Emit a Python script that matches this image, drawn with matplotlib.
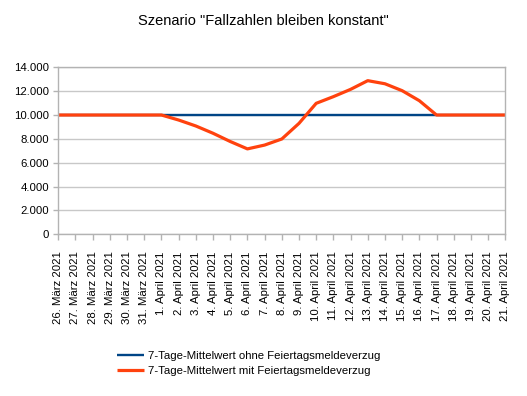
import matplotlib
matplotlib.use("Agg")
import matplotlib.pyplot as plt
from matplotlib.ticker import FuncFormatter

plt.rcParams["font.family"] = ["Liberation Sans", "DejaVu Sans"]

# dates 26. Maerz .. 21. April 2021
dates = [f"{d}. März 2021" for d in range(26, 32)] + [f"{d}. April 2021" for d in range(1, 22)]

ohne = [10000] * 27
mit = [10000, 10000, 10000, 10000, 10000, 10000, 10000,
       9580, 9080, 8470, 7780, 7160,
       7480, 7990, 9300, 10980, 11540, 12150, 12880,
       12620, 12040, 11200, 10000,
       10000, 10000, 10000, 10000]

labels = ["7-Tage-Mittelwert ohne Feiertagsmeldeverzug",
          "7-Tage-Mittelwert mit Feiertagsmeldeverzug"]

W, H = 527, 396
fig = plt.figure(figsize=(W / 100, H / 100), dpi=100)
ax = fig.add_axes([58.3 / W, 1 - 234.3 / H, 447 / W, 167 / H])

x = list(range(len(dates)))
l1, = ax.plot(x, ohne, color="#004586", lw=1.7, solid_capstyle="butt")
l2, = ax.plot(x, mit, color="#ff420e", lw=2.3, solid_capstyle="butt")

ax.set_xlim(0, len(dates) - 1)
ax.set_ylim(0, 14000)
ax.set_yticks(range(0, 14001, 2000))
ax.yaxis.set_major_formatter(FuncFormatter(lambda v, p: f"{int(v):,}".replace(",", ".")))
ax.set_xticks(x)
ax.set_xticklabels(dates, rotation=90)

ax.grid(axis="y", color="#c8c8c8", lw=1.0)
ax.set_axisbelow(True)
for s in ax.spines.values():
    s.set_color("#b3b3b3")
    s.set_linewidth(1.0)
ax.tick_params(axis="both", colors="#b3b3b3", labelcolor="black", labelsize=8.2,
               width=1.0)
ax.tick_params(axis="y", length=3.6, pad=3)
ax.tick_params(axis="x", length=4.3, pad=8)

fig.text(0.5, 1 - 21 / H, 'Szenario "Fallzahlen bleiben konstant"',
         ha="center", va="center", fontsize=10.5)

fig.legend([l1, l2], labels, loc="upper left", bbox_to_anchor=(117 / W, 1 - 351 / H),
           frameon=False, fontsize=8.2, borderpad=0, borderaxespad=0,
           handlelength=2.37, handletextpad=0.35, labelspacing=0.45)

fig.savefig("out.png", dpi=100)
